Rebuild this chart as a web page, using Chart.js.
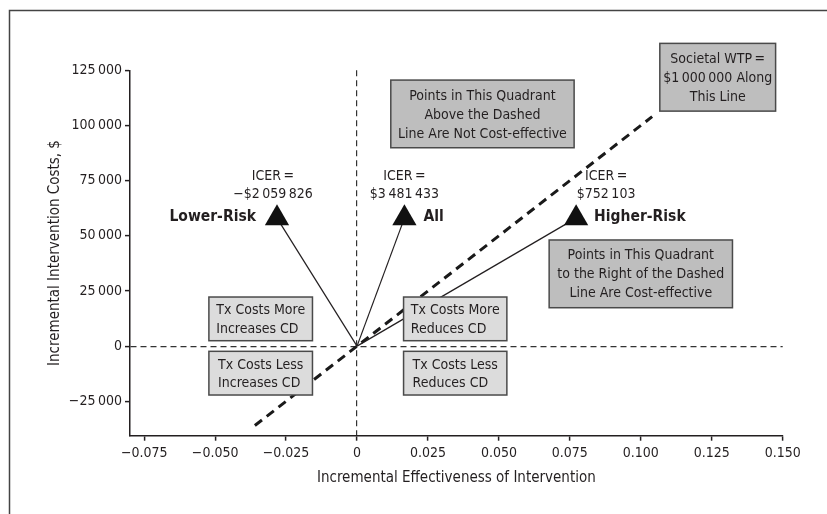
<!DOCTYPE html>
<html lang="en">
<head>
<meta charset="UTF-8">
<title>Incremental Cost-effectiveness Plane</title>
<script src="https://cdn.jsdelivr.net/npm/chart.js"></script>
<style>
  html, body { margin: 0; padding: 0; background: #fff; }
  .wrap { width: 827px; height: 514px; }
</style>
</head>
<body>
<div class="wrap"><canvas id="cePlane" width="827" height="514"></canvas></div>
<script>
const groups = ['Lower-Risk', 'All', 'Higher-Risk'];
const effectiveness = [-0.0282, 0.0167, 0.0772];
const costs = [58000, 58000, 58000];
const icers = [-2059826, 3481433, 752103];

// societal WTP line ($1 000 000 per unit of effect), end points
const wtpEffect = [-0.036, 0.104];
const wtpCost = [-36000, 104000];

const xTicks = [-0.075, -0.05, -0.025, 0, 0.025, 0.05, 0.075, 0.1, 0.125, 0.15];
const yTicks = [-25000, 0, 25000, 50000, 75000, 100000, 125000];

const FONT = "'Liberation Sans Narrow', 'Arial Narrow', 'DejaVu Sans Condensed', sans-serif";
const INK = '#231f20';
const THIN = '\u2009';

function groupDigits(n) {
    return Math.abs(n).toString().replace(/\B(?=(\d{3})+(?!\d))/g, THIN);
}
function money(v) {
    return (v < 0 ? '\u2212' : '') + '$' + groupDigits(v);
}
function fmtX(v) {
    if (Math.abs(v) < 1e-9) return '0';
    return (v < 0 ? '\u2212' : '') + Math.abs(v).toFixed(3);
}
function fmtY(v) {
    if (v === 0) return '0';
    return (v < 0 ? '\u2212' : '') + groupDigits(v);
}

// text boxes, corners given in axis units
const boxes = [
    { text: ['Points in This Quadrant', 'Above the Dashed', 'Line Are Not Cost-effective'],
      x: [0.0119, 0.0765], y: [89900, 120570], fill: '#bebebe', center: true },
    { text: ['Societal WTP' + THIN + '=', '$1' + THIN + '000' + THIN + '000 Along', 'This Line'],
      x: [0.1067, 0.1475], y: [106500, 137200], fill: '#bebebe', center: true },
    { text: ['Points in This Quadrant', 'to the Right of the Dashed', 'Line Are Cost-effective'],
      x: [0.0677, 0.1323], y: [17400, 48100], fill: '#bebebe', center: true },
    { text: ['Tx Costs More', 'Increases CD'], x: [-0.0522, -0.0157], y: [2450, 22250], fill: '#dcdcdc' },
    { text: ['Tx Costs Less', 'Increases CD'], x: [-0.0522, -0.0157], y: [-22160, -2360], fill: '#dcdcdc' },
    { text: ['Tx Costs More', 'Reduces CD'], x: [0.0164, 0.0528], y: [2450, 22250], fill: '#dcdcdc' },
    { text: ['Tx Costs Less', 'Reduces CD'], x: [0.0164, 0.0528], y: [-22160, -2360], fill: '#dcdcdc' }
];

// where the ICER text and group name sit around each triangle (pixels)
const labelPlacement = [
    { icerDx: -4, nameDx: -21, nameAlign: 'right' },
    { icerDx: 0, nameDx: 19, nameAlign: 'left' },
    { icerDx: 30, nameDx: 18, nameAlign: 'left' }
];

const boxPlugin = {
    id: 'boxes',
    afterDatasetsDraw(chart) {
        const { ctx, scales: { x, y } } = chart;
        ctx.save();
        ctx.font = '14px ' + FONT;
        ctx.textBaseline = 'middle';
        boxes.forEach(b => {
            const x1 = x.getPixelForValue(b.x[0]), x2 = x.getPixelForValue(b.x[1]);
            const y1 = y.getPixelForValue(b.y[1]), y2 = y.getPixelForValue(b.y[0]);
            ctx.fillStyle = b.fill;
            ctx.fillRect(x1, y1, x2 - x1, y2 - y1);
            ctx.strokeStyle = '#4a4a4a';
            ctx.lineWidth = 1.5;
            ctx.strokeRect(x1, y1, x2 - x1, y2 - y1);
            ctx.fillStyle = INK;
            const lh = b.center ? 19 : 18.6;
            const cy = (y1 + y2) / 2 + 1 - (b.text.length - 1) * lh / 2;
            const cx = (x1 + x2) / 2;
            const widest = Math.max(...b.text.map(t => ctx.measureText(t).width));
            b.text.forEach((t, i) => {
                if (b.center) {
                    ctx.textAlign = 'center';
                    ctx.fillText(t, cx, cy + i * lh);
                } else {
                    ctx.textAlign = 'left';
                    ctx.fillText(t, cx - widest / 2, cy + i * lh);
                }
            });
        });
        ctx.restore();
    }
};

const pointLabelPlugin = {
    id: 'pointLabels',
    afterDatasetsDraw(chart) {
        const { ctx, scales: { x, y } } = chart;
        ctx.save();
        ctx.fillStyle = INK;
        ctx.textBaseline = 'middle';
        groups.forEach((g, i) => {
            const px = x.getPixelForValue(effectiveness[i]);
            const py = y.getPixelForValue(costs[i]);
            const p = labelPlacement[i];
            ctx.font = '14px ' + FONT;
            ctx.textAlign = 'center';
            ctx.fillText('ICER' + THIN + '=', px + p.icerDx, py - 42);
            ctx.fillText(money(icers[i]), px + p.icerDx, py - 24);
            ctx.font = 'bold 15.5px ' + FONT;
            ctx.textAlign = p.nameAlign;
            ctx.fillText(g, px + p.nameDx, py - 1);
        });
        ctx.restore();
    }
};

const framePlugin = {
    id: 'frame',
    afterDraw(chart) {
        const ctx = chart.ctx;
        ctx.save();
        ctx.strokeStyle = '#444';
        ctx.lineWidth = 1.5;
        ctx.beginPath();
        ctx.moveTo(9.5, 514);
        ctx.lineTo(9.5, 10.5);
        ctx.lineTo(827, 10.5);
        ctx.stroke();
        ctx.restore();
    }
};

Chart.defaults.font.family = FONT;
Chart.defaults.color = INK;

const points = groups.map((g, i) => ({ x: effectiveness[i], y: costs[i] }));

const spokes = groups.map((g, i) => ({
    type: 'line',
    label: g + ' ray',
    data: [{ x: 0, y: 0 }, points[i]],
    borderColor: INK,
    borderWidth: 1.2,
    pointRadius: 0,
    order: 2
}));

new Chart(document.getElementById('cePlane'), {
    type: 'scatter',
    data: {
        datasets: [
            {
                label: 'Groups',
                data: points,
                pointStyle: 'triangle',
                pointRadius: 14,
                backgroundColor: '#111',
                borderColor: '#111',
                borderWidth: 0,
                order: 0
            },
            ...spokes,
            {
                type: 'line',
                label: 'Societal WTP',
                data: wtpEffect.map((v, i) => ({ x: v, y: wtpCost[i] })),
                borderColor: '#1a1a1a',
                borderWidth: 3,
                borderDash: [9, 6],
                pointRadius: 0,
                order: 3
            }
        ]
    },
    options: {
        responsive: false,
        animation: false,
        layout: { padding: { left: 0, top: 70.3, right: 44.3, bottom: 0 } },
        plugins: { legend: { display: false }, tooltip: { enabled: false } },
        scales: {
            x: {
                type: 'linear',
                min: -0.08,
                max: 0.15,
                afterBuildTicks: s => { s.ticks = xTicks.map(v => ({ value: v })); },
                afterFit: s => { s.height = 514 - 435.7; },
                ticks: { callback: v => fmtX(v), font: { size: 14 }, padding: 4, maxRotation: 0, autoSkip: false },
                grid: {
                    color: c => (c.tick && Math.abs(c.tick.value) < 1e-9) ? '#333' : 'rgba(0,0,0,0)',
                    lineWidth: 1.2,
                    tickColor: INK,
                    tickLength: 5,
                    tickWidth: 1.5
                },
                border: { display: true, color: INK, width: 1.5, dash: [6, 4] },
                title: {
                    display: true,
                    text: 'Incremental Effectiveness of Intervention',
                    font: { size: 15 },
                    padding: { top: 0, bottom: 26.7 }
                }
            },
            y: {
                type: 'linear',
                min: -40600,
                max: 125000,
                afterBuildTicks: s => { s.ticks = yTicks.map(v => ({ value: v })); },
                afterFit: s => { s.width = 130; },
                ticks: { callback: v => fmtY(v), font: { size: 14 }, padding: 3 },
                grid: {
                    color: c => (c.tick && c.tick.value === 0) ? '#333' : 'rgba(0,0,0,0)',
                    lineWidth: 1.2,
                    tickColor: INK,
                    tickLength: 5,
                    tickWidth: 1.5
                },
                border: { display: true, color: INK, width: 1.5, dash: [6, 4] },
                title: {
                    display: true,
                    text: 'Incremental Intervention Costs, $',
                    font: { size: 15 },
                    padding: { top: 46, bottom: 0 }
                }
            }
        }
    },
    plugins: [boxPlugin, pointLabelPlugin, framePlugin]
});
</script>
</body>
</html>
